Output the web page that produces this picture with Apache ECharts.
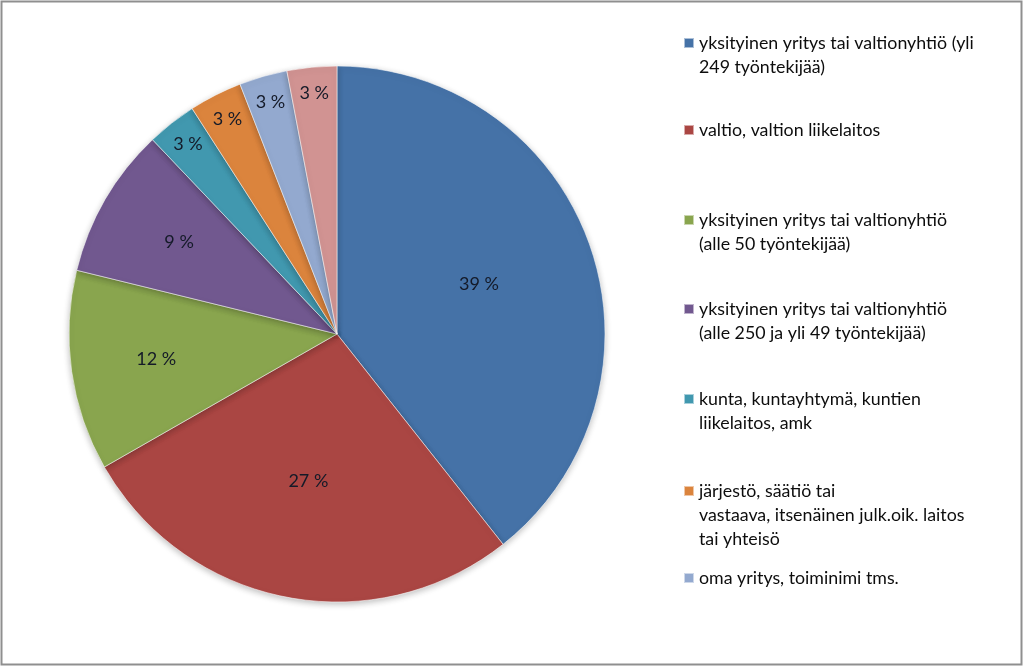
<!DOCTYPE html>
<html>
<head>
<meta charset="utf-8">
<script src="https://cdn.jsdelivr.net/npm/echarts@6/dist/echarts.min.js"></script>
<style>
html,body{margin:0;padding:0;background:#fff;}
#c{width:1024px;height:667px;}
</style>
</head>
<body>
<div id="c"></div>
<script>
// ---- data ----
const categories = [
  'yksityinen yritys tai valtionyhtiö (yli 249 työntekijää)',
  'valtio, valtion liikelaitos',
  'yksityinen yritys tai valtionyhtiö (alle 50 työntekijää)',
  'yksityinen yritys tai valtionyhtiö (alle 250 ja yli 49 työntekijää)',
  'kunta, kuntayhtymä, kuntien liikelaitos, amk',
  'järjestö, säätiö tai vastaava, itsenäinen julk.oik. laitos tai yhteisö',
  'oma yritys, toiminimi tms.',
  'muu'
];
const values = [39.4, 27.4, 12.1, 9.1, 3.0, 3.2, 2.9, 3.0];
const colors = ['#4572A7', '#AA4643', '#89A54E', '#71588F', '#4198AF', '#DB843D', '#93A9CF', '#D19392'];
// legend text, split into the lines shown in the picture (last category not shown in legend)
const legendLines = [
  ['yksityinen yritys tai valtionyhtiö (yli', '249 työntekijää)'],
  ['valtio, valtion liikelaitos'],
  ['yksityinen yritys tai valtionyhtiö', '(alle 50 työntekijää)'],
  ['yksityinen yritys tai valtionyhtiö', '(alle 250 ja yli 49 työntekijää)'],
  ['kunta, kuntayhtymä, kuntien', 'liikelaitos, amk'],
  ['järjestö, säätiö tai', 'vastaava, itsenäinen julk.oik. laitos', 'tai yhteisö'],
  ['oma yritys, toiminimi tms.']
];

// ---- layout ----
const CX = 337, CY = 334, R = 268;
const LH = 24;
const legendTops = [30, 117, 207, 296, 386, 478, 565];
const labelGroups = [
  { inner: 0.10, idx: [0, 1] },
  { inner: 0.34, idx: [2, 3] },
  { inner: 0.78, idx: [4, 5, 6, 7] }
];
const FONT = 'Lato';

const pieData = categories.map((n, i) => ({ name: n, value: values[i], itemStyle: { color: colors[i] } }));

const labelFmt = p => Math.round(p.percent) + ' %';

const series = [{
  type: 'pie',
  center: [CX, CY],
  radius: [0, R],
  startAngle: 90,
  clockwise: true,
  avoidLabelOverlap: false,
  silent: true,
  label: { show: false },
  labelLine: { show: false },
  itemStyle: {
    borderColor: 'rgba(255,255,255,0.55)', borderWidth: 1,
    shadowBlur: 6, shadowColor: 'rgba(0,0,0,0.25)', shadowOffsetY: 2
  },
  data: pieData
}];

labelGroups.forEach(g => {
  series.push({
    type: 'pie',
    center: [CX, CY],
    radius: [R * g.inner, R],
    startAngle: 90,
    clockwise: true,
    avoidLabelOverlap: false,
    silent: true,
    labelLine: { show: false },
    itemStyle: { color: 'rgba(0,0,0,0)', borderWidth: 0 },
    data: categories.map((n, i) => ({
      name: n, value: values[i],
      itemStyle: { color: 'rgba(0,0,0,0)' },
      label: {
        show: g.idx.indexOf(i) >= 0,
        position: 'inside',
        formatter: labelFmt,
        color: '#141a28',
        fontFamily: FONT,
        fontSize: 18
      }
    }))
  });
});

const legends = legendLines.map((lines, i) => {
  const n = lines.length;
  const h = n * LH;
  const icon = 'path://M0,0L0.01,0Z M0,7L10,7L10,17L0,17Z M0,' + h + 'L0.01,' + h + 'Z';
  return {
    left: 683,
    top: legendTops[i],
    orient: 'vertical',
    padding: 0,
    selectedMode: false,
    itemWidth: 10,
    itemHeight: h,
    icon: icon,
    data: [{ name: categories[i], itemStyle: { color: colors[i] } }],
    formatter: () => lines.join('\n'),
    textStyle: { fontFamily: FONT, fontSize: 17.8, color: '#0d0d0d', lineHeight: LH }
  };
});

const chart = echarts.init(document.getElementById('c'), null, { renderer: 'canvas' });
chart.setOption({
  animation: false,
  backgroundColor: '#fff',
  legend: legends,
  series: series,
  graphic: [{
    type: 'rect',
    shape: { x: 1.5, y: 1.5, width: 1020, height: 663 },
    style: { fill: 'none', stroke: '#8f8f8f', lineWidth: 2 },
    silent: true
  }]
});
</script>
</body>
</html>
